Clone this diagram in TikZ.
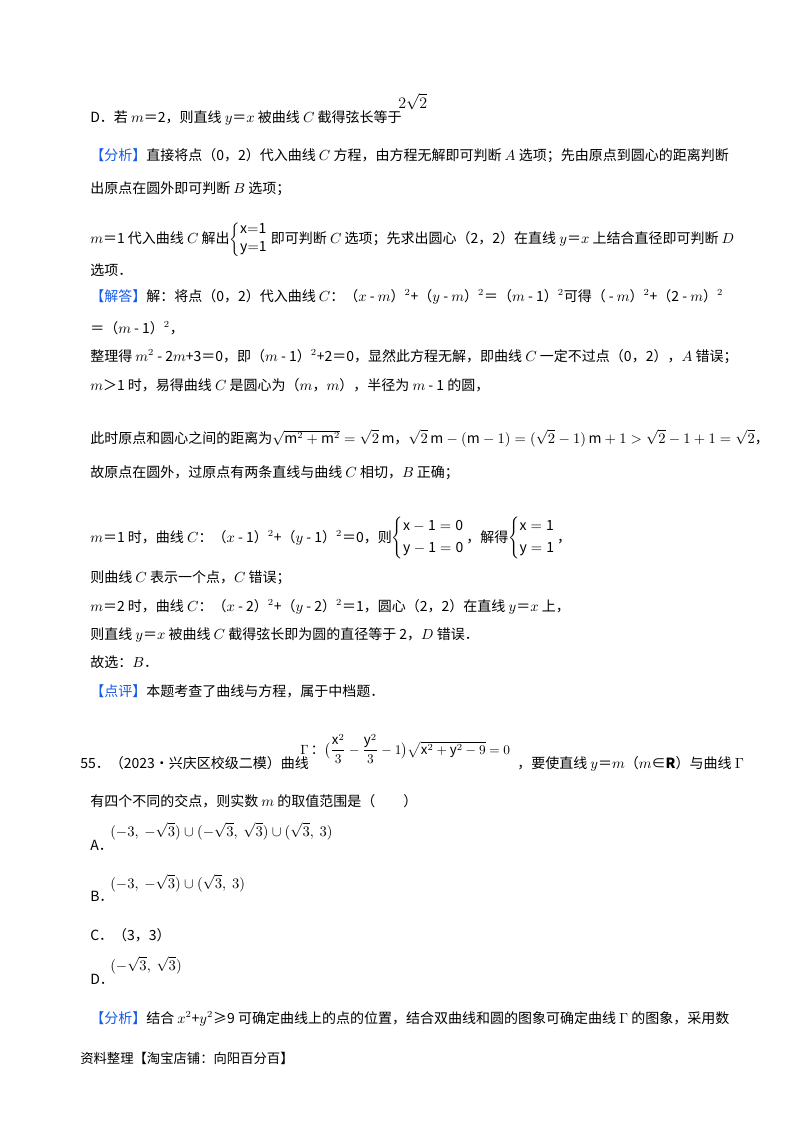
\documentclass[tikz,border=0pt]{standalone}
\usepackage{fontspec}
\usepackage{amsmath,amssymb}
\setmainfont{Noto Sans CJK SC}
\definecolor{tagblue}{RGB}{20,90,230}
\newcommand{\tg}[1]{\textcolor{tagblue}{【#1】}}
\begin{document}
\begin{tikzpicture}[x=0.75pt,y=-0.75pt,
  ln/.style={anchor=base west,inner sep=0pt,font=\fontsize{10.5}{12}\selectfont},
  fm/.style={anchor=base west,inner sep=0pt,font=\fontsize{11}{12}\selectfont}]
\useasboundingbox (0,0) rectangle (800,1132);
\node[ln] (l1) at (90,122) {D．若 $m$＝2，则直线 $y$＝$x$ 被曲线 $C$ 截得弦长等于};
\node[fm,font=\fontsize{13}{14}\selectfont] (f1) at (398,108) {$2\sqrt{2}$};
\node[ln] (l2) at (90,160) {\tg{分析}直接将点（0，2）代入曲线 $C$ 方程，由方程无解即可判断 $A$ 选项；先由原点到圆心的距离判断};
\node[ln] (l3) at (90,193) {出原点在圆外即可判断 $B$ 选项；};
\node[ln] (l4) at (90,243) {$m$＝1 代入曲线 $C$ 解出$\left\{\begin{array}{@{}l}\mathrm{x{=}1}\\[2pt]\mathrm{y{=}1}\end{array}\right.$\hspace{-3pt}即可判断 $C$ 选项；先求出圆心（2，2）在直线 $y$＝$x$ 上结合直径即可判断 $D$};
\node[ln] (l5) at (90,275) {选项．};
\node[ln] (l6) at (90,301) {\tg{解答}解：将点（0，2）代入曲线 $C$：（$x$ - $m$）$^2$+（$y$ - $m$）$^2$＝（$m$ - 1）$^2$可得（ - $m$）$^2$+（2 - $m$）$^2$};
\node[ln] (l7) at (90,333) {＝（$m$ - 1）$^2$，};
\node[ln] (l8) at (90,361) {整理得 $m^2$ - 2$m$+3＝0，即（$m$ - 1）$^2$+2＝0，显然此方程无解，即曲线 $C$ 一定不过点（0，2），$A$ 错误；};
\node[ln] (l9) at (90,390) {$m$＞1 时，易得曲线 $C$ 是圆心为（$m$，$m$），半径为 $m$ - 1 的圆，};
\node[ln] (l10) at (90,443) {此时原点和圆心之间的距离为$\sqrt{\mathrm{m}^2+\mathrm{m}^2}=\sqrt{2}\,\mathrm{m}$，$\sqrt{2}\,\mathrm{m}-(\mathrm{m}-1)=(\sqrt{2}-1)\,\mathrm{m}+1>\sqrt{2}-1+1=\sqrt{2}$，};
\node[ln] (l11) at (90,477) {故原点在圆外，过原点有两条直线与曲线 $C$ 相切，$B$ 正确；};
\node[ln] (l12) at (90,542) {$m$＝1 时，曲线 $C$：（$x$ - 1）$^2$+（$y$ - 1）$^2$＝0，则$\left\{\begin{array}{@{}l}\mathrm{x-1=0}\\[4pt]\mathrm{y-1=0}\end{array}\right.$\hspace{-4pt}，解得$\left\{\begin{array}{@{}l}\mathrm{x=1}\\[4pt]\mathrm{y=1}\end{array}\right.$\hspace{-4pt}，};
\node[ln] (l13) at (90,582) {则曲线 $C$ 表示一个点，$C$ 错误；};
\node[ln] (l14) at (90,611) {$m$＝2 时，曲线 $C$：（$x$ - 2）$^2$+（$y$ - 2）$^2$＝1，圆心（2，2）在直线 $y$＝$x$ 上，};
\node[ln] (l15) at (90,639) {则直线 $y$＝$x$ 被曲线 $C$ 截得弦长即为圆的直径等于 2，$D$ 错误．};
\node[ln] (l16) at (90,667) {故选：$B$．};
\node[ln] (l17) at (90,696) {\tg{点评}本题考查了曲线与方程，属于中档题．};
\node[ln] (l18) at (80,768) {55．（2023•兴庆区校级二模）曲线};
\node[fm,font=\fontsize{10}{12}\selectfont] (f2) at (300,754) {$\Gamma$\,：$\bigl(\dfrac{\mathrm{x}^2}{3}-\dfrac{\mathrm{y}^2}{3}-1\bigr)\sqrt{\mathrm{x}^2+\mathrm{y}^2-9}=0$};
\node[ln] (l19) at (517,768) {，要使直线 $y$＝$m$（$m$∈$\mathbf{R}$）与曲线 $\Gamma$};
\node[ln] (l20) at (90,806) {有四个不同的交点，则实数 $m$ 的取值范围是（\hspace{2em}）};
\node[ln] (a1) at (90,850) {A．};
\node[fm] (a2) at (110,836) {$(-3,\ -\sqrt{3})\cup(-\sqrt{3},\ \sqrt{3})\cup(\sqrt{3},\ 3)$};
\node[ln] (b1) at (90,901) {B．};
\node[fm] (b2) at (110,888) {$(-3,\ -\sqrt{3})\cup(\sqrt{3},\ 3)$};
\node[ln] (c1) at (90,940) {C．（3，3）};
\node[ln] (d1) at (90,984) {D．};
\node[fm] (d2) at (110,970) {$(-\sqrt{3},\ \sqrt{3})$};
\node[ln] (l21) at (90,1023) {\tg{分析}结合 $x^2$+$y^2$≥9 可确定曲线上的点的位置，结合双曲线和圆的图象可确定曲线 $\Gamma$ 的图象，采用数};
\node[ln,font=\fontsize{10}{12}\selectfont] (l22) at (80,1063) {资料整理【淘宝店铺：向阳百分百】};
\end{tikzpicture}
\end{document}
